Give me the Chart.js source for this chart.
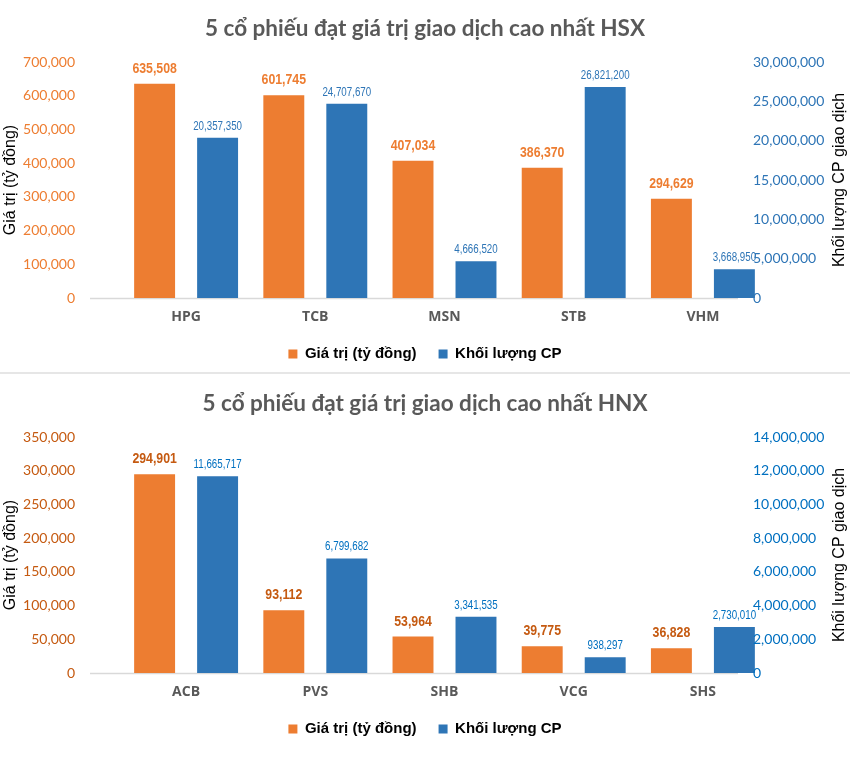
<!DOCTYPE html>
<html>
<head>
<meta charset="utf-8">
<script src="https://cdn.jsdelivr.net/npm/chart.js@4.4.1/dist/chart.umd.min.js"></script>
<style>
  html, body { margin: 0; padding: 0; background: #fff; }
  body { width: 850px; height: 774px; position: relative; overflow: hidden; }
  .wrap { position: absolute; left: 0; width: 850px; height: 372px; }
  #sep { position: absolute; left: 0; top: 372px; width: 850px; height: 2px; background: #e6e6e6; }
</style>
</head>
<body>
<div class="wrap" style="top:0"><canvas id="c1" width="850" height="372"></canvas></div>
<div id="sep"></div>
<div class="wrap" style="top:375px"><canvas id="c2" width="850" height="372"></canvas></div>
<script>
// ---- Data ----
const hsxTitle = '5 cổ phiếu đạt giá trị giao dịch cao nhất HSX';
const hsxCategories = ['HPG', 'TCB', 'MSN', 'STB', 'VHM'];
const hsxValue = [635508, 601745, 407034, 386370, 294629];
const hsxVolume = [20357350, 24707670, 4666520, 26821200, 3668950];
const hsxLeftTicks = { max: 700000, step: 100000 };
const hsxRightTicks = { max: 30000000, step: 5000000 };

const hnxTitle = '5 cổ phiếu đạt giá trị giao dịch cao nhất HNX';
const hnxCategories = ['ACB', 'PVS', 'SHB', 'VCG', 'SHS'];
const hnxValue = [294901, 93112, 53964, 39775, 36828];
const hnxVolume = [11665717, 6799682, 3341535, 938297, 2730010];
const hnxLeftTicks = { max: 350000, step: 50000 };
const hnxRightTicks = { max: 14000000, step: 2000000 };

const seriesNames = ['Giá trị (tỷ đồng)', 'Khối lượng CP'];
const leftAxisTitle = 'Giá trị (tỷ đồng)';
const rightAxisTitle = 'Khối lượng CP giao dịch';

const ORANGE = '#ED7D31';
const BLUE = '#2E75B6';

const fmt = v => Number(v).toLocaleString('en-US');

function narrowText(ctx, text, x, y, sx) {
  ctx.save();
  ctx.translate(x, y);
  ctx.scale(sx, 1);
  ctx.fillText(text, 0, 0);
  ctx.restore();
}

const decorPlugin = {
  id: 'decor',
  beforeDatasetsDraw(chart) {
    const ctx = chart.ctx, a = chart.chartArea;
    ctx.save();
    ctx.strokeStyle = '#d9d9d9';
    ctx.lineWidth = 1.5;
    ctx.beginPath();
    ctx.moveTo(90, a.bottom + 0.5);
    ctx.lineTo(738, a.bottom + 0.5);
    ctx.stroke();
    ctx.restore();
  },
  afterDatasetsDraw(chart) {
    const ctx = chart.ctx, a = chart.chartArea;
    const o = chart.options.plugins.decor;
    ctx.save();
    // right-axis tick labels (from the library's own scale ticks)
    const r = chart.scales.y1;
    ctx.font = '14px Lato, sans-serif';
    ctx.fillStyle = o.rightColor;
    ctx.textAlign = 'left';
    ctx.textBaseline = 'middle';
    r.ticks.forEach(t => {
      ctx.fillText(fmt(t.value), 753, r.getPixelForValue(t.value));
    });
    // data labels
    chart.data.datasets.forEach((ds, di) => {
      const meta = chart.getDatasetMeta(di);
      meta.data.forEach((bar, i) => {
        ctx.textAlign = 'center';
        ctx.textBaseline = 'alphabetic';
        if (di === 0) {
          ctx.font = 'bold 15px "Liberation Sans", Arial, sans-serif';
          ctx.fillStyle = o.labelColors[0];
          narrowText(ctx, fmt(ds.data[i]), bar.x, bar.y - 11, 0.82);
        } else {
          ctx.font = '12.5px "Liberation Sans", Arial, sans-serif';
          ctx.fillStyle = o.labelColors[1];
          narrowText(ctx, fmt(ds.data[i]), bar.x, bar.y - 8, 0.78);
        }
      });
    });
    // axis titles
    const cy = (a.top + a.bottom) / 2;
    ctx.font = '16px "Liberation Sans", Arial, sans-serif';
    ctx.fillStyle = '#000';
    ctx.textAlign = 'center';
    ctx.textBaseline = 'middle';
    ctx.save();
    ctx.translate(11, cy);
    ctx.rotate(-Math.PI / 2);
    ctx.fillText(leftAxisTitle, 0, 0);
    ctx.restore();
    ctx.save();
    ctx.translate(840, cy);
    ctx.rotate(-Math.PI / 2);
    ctx.fillText(rightAxisTitle, 0, 0);
    ctx.restore();
    ctx.restore();
  }
};

function makeChart(id, title, cats, vals, vols, lt, rt, colors) {
  return new Chart(document.getElementById(id), {
    type: 'bar',
    data: {
      labels: cats,
      datasets: [
        { label: seriesNames[0], data: vals, backgroundColor: ORANGE, yAxisID: 'y',
          categoryPercentage: 0.975, barPercentage: 0.65 },
        { label: seriesNames[1], data: vols, backgroundColor: BLUE, yAxisID: 'y1',
          categoryPercentage: 0.975, barPercentage: 0.65 }
      ]
    },
    options: {
      responsive: false,
      animation: false,
      locale: 'en-US',
      layout: { padding: { left: 0, right: 0, top: 0, bottom: 0.5 } },
      plugins: {
        title: {
          display: true, text: title, color: '#595959',
          font: { family: 'Lato', size: 22.5, weight: 'bold', lineHeight: 1.2 },
          padding: { top: 15.5, bottom: 19.5 }
        },
        legend: {
          position: 'bottom',
          labels: {
            boxWidth: 9, boxHeight: 9, padding: 22, color: '#000',
            font: { family: '"Liberation Sans", Arial, sans-serif', size: 15, weight: 'bold' }
          }
        },
        tooltip: { enabled: false },
        decor: { labelColors: colors.labels, rightColor: colors.right }
      },
      scales: {
        x: {
          grid: { display: false, drawTicks: false },
          border: { display: false },
          ticks: { color: '#595959', padding: 11, font: { family: '"Open Sans", sans-serif', size: 14, weight: 'bold' } },
          afterFit(s) { s.height = 26.5; }
        },
        y: {
          position: 'left', min: 0, max: lt.max,
          grid: { display: false, drawTicks: false },
          border: { display: false },
          ticks: { stepSize: lt.step, color: colors.left, padding: 46.5, font: { family: 'Lato', size: 14 } },
          afterFit(s) { s.width = 121.5; }
        },
        y1: {
          position: 'right', min: 0, max: rt.max,
          grid: { display: false, drawTicks: false },
          border: { display: false },
          ticks: { stepSize: rt.step, display: false },
          afterFit(s) { s.width = 82.5; }
        }
      }
    },
    plugins: [decorPlugin]
  });
}

makeChart('c1', hsxTitle, hsxCategories, hsxValue, hsxVolume, hsxLeftTicks, hsxRightTicks,
  { left: '#ED7D31', right: '#2E75B6', labels: ['#ED7D31', '#2E75B6'] });
makeChart('c2', hnxTitle, hnxCategories, hnxValue, hnxVolume, hnxLeftTicks, hnxRightTicks,
  { left: '#C55A11', right: '#0070C0', labels: ['#C55A11', '#0070C0'] });
</script>
</body>
</html>
